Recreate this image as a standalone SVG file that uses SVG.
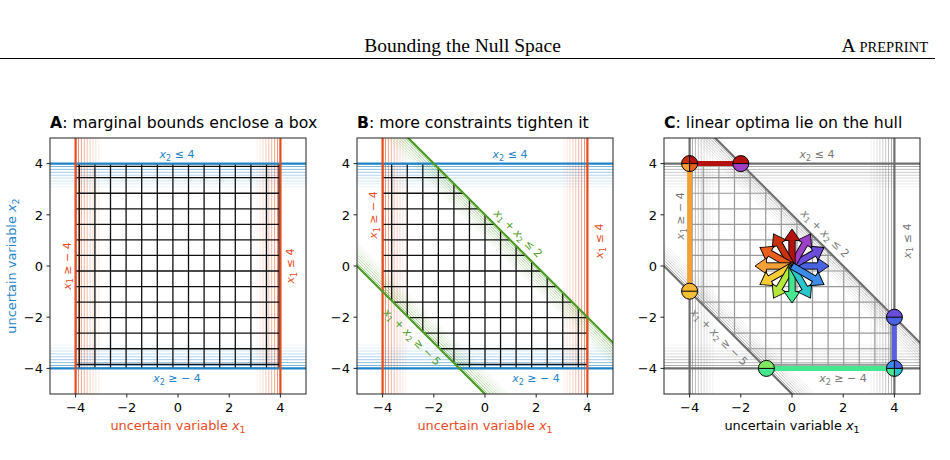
<svg xmlns="http://www.w3.org/2000/svg" xmlns:xlink="http://www.w3.org/1999/xlink" width="950" height="460" viewBox="0 0 950 460">
<style>
text{font-family:"DejaVu Sans",sans-serif}
.hdr{font-family:"Liberation Serif","Times New Roman",serif;font-size:19.5px;fill:#000}
.ttl{font-size:15.7px;fill:#000}
.tk{font-size:13px;fill:#000}
.tkl{text-anchor:end}
.tkb{text-anchor:middle}
.lab{font-size:12.9px;text-anchor:middle}
.ann{font-size:11px;text-anchor:middle}
.frame{fill:none;stroke:#222;stroke-width:1}
.tick{stroke:#222;stroke-width:1;fill:none}
.o1{opacity:.6}.o2{opacity:.5}.o3{opacity:.42}.o4{opacity:.35}.o5{opacity:.28}.o6{opacity:.21}.o7{opacity:.15}.o8{opacity:.09}
.cl{fill:none;stroke-width:2.2}
.gridk{fill:none;stroke:#111;stroke-width:1.3}
.gridg{fill:none;stroke:#999;stroke-width:1.2}
.edge{fill:none;stroke-width:5}
.dot{fill:none;stroke:#000;stroke-width:1}
.arr{stroke:#000;stroke-width:0.9;stroke-linejoin:miter}
</style>
<defs>
<clipPath id="axA"><rect x="50" y="138" width="256" height="256"/></clipPath>
<clipPath id="axB"><rect x="357" y="138" width="256" height="256"/></clipPath>
<clipPath id="axC"><rect x="664" y="138" width="256" height="256"/></clipPath>
<clipPath id="polyB"><polygon points="382.6,163.6 433.8,163.6 587.4,317.2 587.4,368.4 459.4,368.4 382.6,291.2"/></clipPath>
<clipPath id="polyC"><polygon points="689.6,163.6 740.8,163.6 894.4,317.2 894.4,368.4 766.4,368.4 689.6,291.2"/></clipPath>
<g id="vb" fill="none" stroke-width="1">
<path class="o1" d="M78.5 138V394M277.5 138V394"/>
<path class="o2" d="M81.4 138V394M274.6 138V394"/>
<path class="o3" d="M84.3 138V394M271.7 138V394"/>
<path class="o4" d="M87.2 138V394M268.8 138V394"/>
<path class="o5" d="M90.1 138V394M265.9 138V394"/>
<path class="o6" d="M93 138V394M263 138V394"/>
<path class="o7" d="M95.9 138V394M260.1 138V394"/>
<path class="o8" d="M98.8 138V394M257.2 138V394"/>
</g>
<g id="hb" fill="none" stroke-width="1">
<path class="o1" d="M50 166.5H306M50 365.5H306"/>
<path class="o2" d="M50 169.4H306M50 362.6H306"/>
<path class="o3" d="M50 172.3H306M50 359.7H306"/>
<path class="o4" d="M50 175.2H306M50 356.8H306"/>
<path class="o5" d="M50 178.1H306M50 353.9H306"/>
<path class="o6" d="M50 181H306M50 351H306"/>
<path class="o7" d="M50 183.9H306M50 348.1H306"/>
<path class="o8" d="M50 186.8H306M50 345.2H306"/>
</g>
<g id="db" fill="none" stroke-width="1">
<path class="o1" d="M60.3 100L380.3 420M-113.1 100L206.9 420"/>
<path class="o2" d="M57.4 100L377.4 420M-110.2 100L209.8 420"/>
<path class="o3" d="M54.5 100L374.5 420M-107.3 100L212.7 420"/>
<path class="o4" d="M51.6 100L371.6 420M-104.4 100L215.6 420"/>
<path class="o5" d="M48.7 100L368.7 420M-101.5 100L218.5 420"/>
<path class="o6" d="M45.8 100L365.8 420M-98.6 100L221.4 420"/>
<path class="o7" d="M42.9 100L362.9 420M-95.7 100L224.3 420"/>
<path class="o8" d="M40 100L360 420M-92.8 100L227.2 420"/>
</g>
<path id="arrow" d="M0 -3.2L25.5 -3.2L25.5 -8L37 0L25.5 8L25.5 3.2L0 3.2Z"/>
</defs>

<g id="header">
<text class="hdr" x="462.5" y="52" text-anchor="middle">Bounding the Null Space</text>
<text class="hdr" x="928" y="52" text-anchor="end">A <tspan font-size="14.5">PREPRINT</tspan></text>
<line x1="0" y1="58.5" x2="935" y2="58.5" stroke="#000" stroke-width="1"/>
</g>

<!-- Panel A -->
<g id="panelA">
<text class="ttl" x="50" y="128"><tspan font-weight="bold">A</tspan>: marginal bounds enclose a box</text>
<g clip-path="url(#axA)">
<use xlink:href="#hb" stroke="#1f84c8"/>
<use xlink:href="#vb" stroke="#e84a1b"/>
<path class="gridk" d="M75.6 163.6V368.4M79.3 163.6V368.4M94.9 163.6V368.4M110.5 163.6V368.4M126.1 163.6V368.4M141.7 163.6V368.4M157.3 163.6V368.4M172.9 163.6V368.4M188.5 163.6V368.4M204.1 163.6V368.4M219.7 163.6V368.4M235.3 163.6V368.4M250.9 163.6V368.4M266.5 163.6V368.4M279 163.6V368.4M280.4 163.6V368.4M75.6 163.6H280.4M75.6 166.3H280.4M75.6 177.7H280.4M75.6 193.25H280.4M75.6 208.8H280.4M75.6 224.35H280.4M75.6 239.9H280.4M75.6 255.45H280.4M75.6 271H280.4M75.6 286.55H280.4M75.6 302.1H280.4M75.6 317.65H280.4M75.6 333.2H280.4M75.6 348.75H280.4M75.6 364.3H280.4M75.6 368.4H280.4"/>
<path class="cl" stroke="#1f84c8" d="M50 163.6H306M50 368.4H306"/>
<path class="cl" stroke="#e84a1b" d="M75.6 138V394M280.4 138V394"/>
</g>
<rect class="frame" x="50" y="138" width="256" height="256"/>
<path class="tick" d="M75.6 394v3.5M126.8 394v3.5M178 394v3.5M229.2 394v3.5M280.4 394v3.5M50 163.6h-3.5M50 214.8h-3.5M50 266h-3.5M50 317.2h-3.5M50 368.4h-3.5"/>
<g class="tk">
<text class="tkb" x="75.6" y="411.5">−4</text><text class="tkb" x="126.8" y="411.5">−2</text><text class="tkb" x="178" y="411.5">0</text><text class="tkb" x="229.2" y="411.5">2</text><text class="tkb" x="280.4" y="411.5">4</text>
<text class="tkl" x="43" y="168.3">4</text><text class="tkl" x="43" y="219.5">2</text><text class="tkl" x="43" y="270.7">0</text><text class="tkl" x="43" y="321.9">−2</text><text class="tkl" x="43" y="373.1">−4</text>
</g>
<text class="lab" x="178" y="430" fill="#e84a1b">uncertain variable <tspan font-style="italic">x</tspan><tspan font-size="9.5" dy="2.5">1</tspan></text>
<text class="lab" transform="translate(16,266) rotate(-90)" fill="#1f84c8">uncertain variable <tspan font-style="italic">x</tspan><tspan font-size="9.5" dy="2.5">2</tspan></text>
<g fill="#1f84c8">
<text class="ann" x="177" y="158"><tspan font-style="italic">x</tspan><tspan font-size="8" dy="2.5">2</tspan><tspan dy="-2.5"> ≤ 4</tspan></text>
<text class="ann" x="177" y="382"><tspan font-style="italic">x</tspan><tspan font-size="8" dy="2.5">2</tspan><tspan dy="-2.5"> ≥ − 4</tspan></text>
</g>
<g fill="#e84a1b">
<text class="ann" transform="translate(70.5,266) rotate(-90)"><tspan font-style="italic">x</tspan><tspan font-size="8" dy="2.5">1</tspan><tspan dy="-2.5"> ≥ − 4</tspan></text>
<text class="ann" transform="translate(294,266) rotate(-90)"><tspan font-style="italic">x</tspan><tspan font-size="8" dy="2.5">1</tspan><tspan dy="-2.5"> ≤ 4</tspan></text>
</g>
</g>

<!-- Panel B -->
<g id="panelB">
<text class="ttl" x="357" y="128"><tspan font-weight="bold">B</tspan>: more constraints tighten it</text>
<g clip-path="url(#axB)">
<use xlink:href="#hb" x="307" stroke="#1f84c8"/>
<use xlink:href="#vb" x="307" stroke="#e84a1b"/>
<use xlink:href="#db" x="307" stroke="#4a9a22"/>
<path class="gridk" clip-path="url(#polyB)" d="M382.6 163.6V368.4M391.7 163.6V368.4M407.25 163.6V368.4M422.8 163.6V368.4M438.35 163.6V368.4M453.9 163.6V368.4M469.45 163.6V368.4M485 163.6V368.4M500.55 163.6V368.4M516.1 163.6V368.4M531.65 163.6V368.4M547.2 163.6V368.4M562.75 163.6V368.4M578.3 163.6V368.4M587.4 163.6V368.4M382.6 163.6H587.4M382.6 177.7H587.4M382.6 193.25H587.4M382.6 208.8H587.4M382.6 224.35H587.4M382.6 239.9H587.4M382.6 255.45H587.4M382.6 271H587.4M382.6 286.55H587.4M382.6 302.1H587.4M382.6 317.65H587.4M382.6 333.2H587.4M382.6 348.75H587.4M382.6 364.3H587.4M382.6 368.4H587.4"/>
<path class="cl" stroke="#1f84c8" d="M357 163.6H613M357 368.4H613"/>
<path class="cl" stroke="#e84a1b" d="M382.6 138V394M587.4 138V394"/>
<path class="cl" stroke="#4a9a22" d="M370.2 100L690.2 420M191 100L511 420"/>
</g>
<rect class="frame" x="357" y="138" width="256" height="256"/>
<path class="tick" d="M382.6 394v3.5M433.8 394v3.5M485 394v3.5M536.2 394v3.5M587.4 394v3.5M357 163.6h-3.5M357 214.8h-3.5M357 266h-3.5M357 317.2h-3.5M357 368.4h-3.5"/>
<g class="tk">
<text class="tkb" x="382.6" y="411.5">−4</text><text class="tkb" x="433.8" y="411.5">−2</text><text class="tkb" x="485" y="411.5">0</text><text class="tkb" x="536.2" y="411.5">2</text><text class="tkb" x="587.4" y="411.5">4</text>
<text class="tkl" x="350" y="168.3">4</text><text class="tkl" x="350" y="219.5">2</text><text class="tkl" x="350" y="270.7">0</text><text class="tkl" x="350" y="321.9">−2</text><text class="tkl" x="350" y="373.1">−4</text>
</g>
<text class="lab" x="485" y="430" fill="#e84a1b">uncertain variable <tspan font-style="italic">x</tspan><tspan font-size="9.5" dy="2.5">1</tspan></text>
<g fill="#1f84c8">
<text class="ann" x="510" y="158"><tspan font-style="italic">x</tspan><tspan font-size="8" dy="2.5">2</tspan><tspan dy="-2.5"> ≤ 4</tspan></text>
<text class="ann" x="536" y="382"><tspan font-style="italic">x</tspan><tspan font-size="8" dy="2.5">2</tspan><tspan dy="-2.5"> ≥ − 4</tspan></text>
</g>
<g fill="#e84a1b">
<text class="ann" transform="translate(377,215) rotate(-90)"><tspan font-style="italic">x</tspan><tspan font-size="8" dy="2.5">1</tspan><tspan dy="-2.5"> ≥ − 4</tspan></text>
<text class="ann" transform="translate(603,241) rotate(-90)"><tspan font-style="italic">x</tspan><tspan font-size="8" dy="2.5">1</tspan><tspan dy="-2.5"> ≤ 4</tspan></text>
</g>
<g fill="#4a9a22">
<text class="ann" transform="translate(518.3,233.3) rotate(45)" y="4"><tspan font-style="italic">x</tspan><tspan font-size="8" dy="2.5">1</tspan><tspan dy="-2.5"> + </tspan><tspan font-style="italic">x</tspan><tspan font-size="8" dy="2.5">2</tspan><tspan dy="-2.5"> ≤ 2</tspan></text>
<text class="ann" transform="translate(412.3,336.7) rotate(45)" y="4"><tspan font-style="italic">x</tspan><tspan font-size="8" dy="2.5">1</tspan><tspan dy="-2.5"> + </tspan><tspan font-style="italic">x</tspan><tspan font-size="8" dy="2.5">2</tspan><tspan dy="-2.5"> ≥ − 5</tspan></text>
</g>
</g>

<!-- Panel C -->
<g id="panelC">
<text class="ttl" x="664" y="128"><tspan font-weight="bold">C</tspan>: linear optima lie on the hull</text>
<g clip-path="url(#axC)">
<use xlink:href="#hb" x="614" stroke="#777"/>
<use xlink:href="#vb" x="614" stroke="#777"/>
<use xlink:href="#db" x="614" stroke="#777"/>
<path class="gridg" clip-path="url(#polyC)" d="M689.6 163.6V368.4M703.3 163.6V368.4M718.9 163.6V368.4M734.5 163.6V368.4M750.1 163.6V368.4M765.7 163.6V368.4M781.3 163.6V368.4M796.9 163.6V368.4M812.5 163.6V368.4M828.1 163.6V368.4M843.7 163.6V368.4M859.3 163.6V368.4M874.9 163.6V368.4M890.5 163.6V368.4M894.4 163.6V368.4M689.6 163.6H894.4M689.6 177.7H894.4M689.6 193.25H894.4M689.6 208.8H894.4M689.6 224.35H894.4M689.6 239.9H894.4M689.6 255.45H894.4M689.6 271H894.4M689.6 286.55H894.4M689.6 302.1H894.4M689.6 317.65H894.4M689.6 333.2H894.4M689.6 348.75H894.4M689.6 364.3H894.4M689.6 368.4H894.4"/>
<path class="cl" stroke="#6e6e6e" d="M664 163.6H920M664 368.4H920M689.6 138V394M894.4 138V394M677.2 100L997.2 420M498 100L818 420"/>
</g>
<rect class="frame" x="664" y="138" width="256" height="256"/>
<path class="tick" d="M689.6 394v3.5M740.8 394v3.5M792 394v3.5M843.2 394v3.5M894.4 394v3.5M664 163.6h-3.5M664 214.8h-3.5M664 266h-3.5M664 317.2h-3.5M664 368.4h-3.5"/>
<g class="tk">
<text class="tkb" x="689.6" y="411.5">−4</text><text class="tkb" x="740.8" y="411.5">−2</text><text class="tkb" x="792" y="411.5">0</text><text class="tkb" x="843.2" y="411.5">2</text><text class="tkb" x="894.4" y="411.5">4</text>
<text class="tkl" x="657" y="168.3">4</text><text class="tkl" x="657" y="219.5">2</text><text class="tkl" x="657" y="270.7">0</text><text class="tkl" x="657" y="321.9">−2</text><text class="tkl" x="657" y="373.1">−4</text>
</g>
<text class="lab" x="792" y="430" fill="#000">uncertain variable <tspan font-style="italic">x</tspan><tspan font-size="9.5" dy="2.5">1</tspan></text>
<g fill="#777">
<text class="ann" x="817" y="158"><tspan font-style="italic">x</tspan><tspan font-size="8" dy="2.5">2</tspan><tspan dy="-2.5"> ≤ 4</tspan></text>
<text class="ann" x="843" y="382"><tspan font-style="italic">x</tspan><tspan font-size="8" dy="2.5">2</tspan><tspan dy="-2.5"> ≥ − 4</tspan></text>
<text class="ann" transform="translate(684,216) rotate(-90)"><tspan font-style="italic">x</tspan><tspan font-size="8" dy="2.5">1</tspan><tspan dy="-2.5"> ≥ − 4</tspan></text>
<text class="ann" transform="translate(910.5,241) rotate(-90)"><tspan font-style="italic">x</tspan><tspan font-size="8" dy="2.5">1</tspan><tspan dy="-2.5"> ≤ 4</tspan></text>
<text class="ann" transform="translate(825.3,233.3) rotate(45)" y="4"><tspan font-style="italic">x</tspan><tspan font-size="8" dy="2.5">1</tspan><tspan dy="-2.5"> + </tspan><tspan font-style="italic">x</tspan><tspan font-size="8" dy="2.5">2</tspan><tspan dy="-2.5"> ≤ 2</tspan></text>
<text class="ann" transform="translate(719.3,336.7) rotate(45)" y="4"><tspan font-style="italic">x</tspan><tspan font-size="8" dy="2.5">1</tspan><tspan dy="-2.5"> + </tspan><tspan font-style="italic">x</tspan><tspan font-size="8" dy="2.5">2</tspan><tspan dy="-2.5"> ≥ − 5</tspan></text>
</g>
<g id="edges">
<path class="edge" stroke="#b41010" d="M689.6 163.6H740.8"/>
<path class="edge" stroke="#f5a035" d="M689.6 163.6V291.2"/>
<path class="edge" stroke="#45e88f" d="M766.4 368.4H894.4"/>
<path class="edge" stroke="#5a5fe0" d="M894.4 317.2V368.4"/>
</g>
<g id="star" class="arr" transform="translate(792,266)">
<use xlink:href="#arrow" fill="#4a63e0"/>
<use xlink:href="#arrow" fill="#6b4cd8" transform="rotate(-30)"/>
<use xlink:href="#arrow" fill="#9e3fc8" transform="rotate(-60)"/>
<use xlink:href="#arrow" fill="#b41010" transform="rotate(-90)"/>
<use xlink:href="#arrow" fill="#c8300e" transform="rotate(-120)"/>
<use xlink:href="#arrow" fill="#e8601c" transform="rotate(-150)"/>
<use xlink:href="#arrow" fill="#f5a035" transform="rotate(-180)"/>
<use xlink:href="#arrow" fill="#f5cc35" transform="rotate(-210)"/>
<use xlink:href="#arrow" fill="#b5e83a" transform="rotate(-240)"/>
<use xlink:href="#arrow" fill="#45e88f" transform="rotate(-270)"/>
<use xlink:href="#arrow" fill="#2bc5cc" transform="rotate(-300)"/>
<use xlink:href="#arrow" fill="#3a8ce8" transform="rotate(-330)"/>
</g>
<g id="v1" transform="translate(689.6,163.6)">
<path d="M0 0V-8A8 8 0 0 1 8 0Z" fill="#b41010"/>
<path d="M0 0H-8A8 8 0 0 1 0 -8Z" fill="#c8300e"/>
<path d="M0 0V8A8 8 0 0 1 -8 0Z" fill="#f5a035"/>
<path d="M0 0H8A8 8 0 0 1 0 8Z" fill="#e8601c"/>
<circle class="dot" r="8"/><path class="dot" d="M-8 0H8M0 -8V8"/>
</g>
<g id="v2" transform="translate(740.8,163.6)">
<path d="M-8 0A8 8 0 0 1 8 0Z" fill="#b41010"/>
<path d="M-8 0A8 8 0 0 0 8 0Z" fill="#9e3fc8"/>
<circle class="dot" r="8"/><path class="dot" d="M-8 0H8"/>
</g>
<g id="v3" transform="translate(894.4,317.2)">
<path d="M-8 0A8 8 0 0 1 8 0Z" fill="#6b4cd8"/>
<path d="M-8 0A8 8 0 0 0 8 0Z" fill="#4a63e0"/>
<circle class="dot" r="8"/><path class="dot" d="M-8 0H8"/>
</g>
<g id="v4" transform="translate(894.4,368.4)">
<path d="M0 0V-8A8 8 0 0 1 8 0Z" fill="#4a63e0"/>
<path d="M0 0H-8A8 8 0 0 1 0 -8Z" fill="#3a8ce8"/>
<path d="M0 0V8A8 8 0 0 1 -8 0Z" fill="#45e88f"/>
<path d="M0 0H8A8 8 0 0 1 0 8Z" fill="#2bc5cc"/>
<circle class="dot" r="8"/><path class="dot" d="M-8 0H8M0 -8V8"/>
</g>
<g id="v5" transform="translate(766.4,368.4)">
<path d="M-8 0A8 8 0 0 1 8 0Z" fill="#7ee860"/>
<path d="M-8 0A8 8 0 0 0 8 0Z" fill="#45e88f"/>
<circle class="dot" r="8"/><path class="dot" d="M-8 0H8"/>
</g>
<g id="v6" transform="translate(689.6,291.2)">
<path d="M-8 0A8 8 0 0 1 8 0Z" fill="#f5b535"/>
<path d="M-8 0A8 8 0 0 0 8 0Z" fill="#f5c035"/>
<circle class="dot" r="8"/><path class="dot" d="M-8 0H8"/>
</g>
</g>
</svg>
